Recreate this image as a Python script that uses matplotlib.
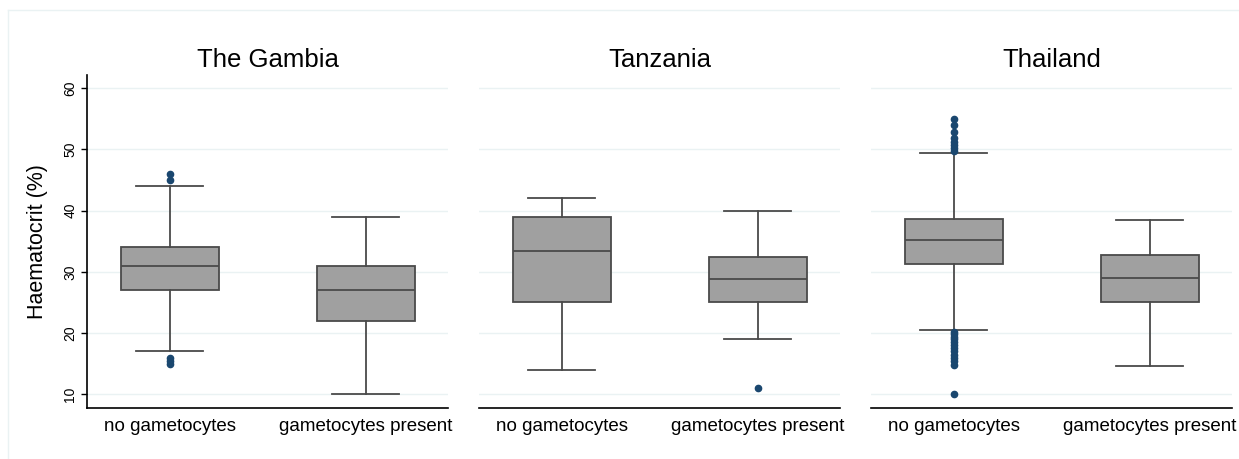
import matplotlib
matplotlib.use("Agg")
import matplotlib.pyplot as plt
from matplotlib.lines import Line2D

plt.rcParams["font.family"] = ["Liberation Sans", "DejaVu Sans"]

countries = ["The Gambia", "Tanzania", "Thailand"]
groups = ["no gametocytes", "gametocytes present"]

# per country: [no gametocytes, gametocytes present]
whislo = [[17, 10], [13.9, 19], [20.5, 14.7]]
q1 = [[27, 22], [25.1, 25.1], [31.3, 25.1]]
med = [[31, 27], [33.4, 28.9], [35.2, 29.0]]
q3 = [[34, 31], [39, 32.4], [38.6, 32.8]]
whishi = [[44, 39], [42, 40], [49.4, 38.4]]
fliers = [
    [[45, 46, 15, 15.5, 16], []],
    [[], [11]],
    [[49.8, 50.3, 50.8, 51.3, 51.8, 52.9, 54, 55,
      20.2, 19.8, 19.4, 19, 18.5, 18, 17.5, 17, 16.5, 16, 15.5, 14.8, 10], []],
]

yticks = [10, 20, 30, 40, 50, 60]

fig = plt.figure(figsize=(12.39, 4.59), dpi=100)
W, H = 1239, 459
lefts = [87, 479, 871]
grid_c = "#eaf2f3"
edge_c = "#4a4a4a"

for i, country in enumerate(countries):
    ax = fig.add_axes([lefts[i] / W, 1 - 408.3 / H, 361 / W, (408.3 - 75) / H])
    stats = []
    for j, g in enumerate(groups):
        stats.append(dict(label=g, whislo=whislo[i][j], q1=q1[i][j], med=med[i][j],
                          q3=q3[i][j], whishi=whishi[i][j], fliers=fliers[i][j]))
    ax.bxp(stats, positions=[1, 2], widths=0.5, patch_artist=True,
           boxprops=dict(facecolor="#a0a0a0", edgecolor=edge_c, linewidth=1.3),
           medianprops=dict(color=edge_c, linewidth=1.3),
           whiskerprops=dict(color=edge_c, linewidth=1.3),
           capprops=dict(color=edge_c, linewidth=1.3),
           capwidths=0.34,
           flierprops=dict(marker="o", markerfacecolor="#1a476f",
                           markeredgecolor="#1a476f", markersize=4.5),
           zorder=3)
    ax.set_xlim(0.578, 2.42)
    ax.set_ylim(7.71, 62.17)
    ax.set_yticks(yticks)
    for y in yticks:
        ax.axhline(y, color=grid_c, linewidth=1.0, zorder=1)
    ax.set_title(country, fontsize=18.5, pad=6)
    ax.tick_params(axis="x", length=0, pad=7, labelsize=13.5)
    for s in ["top", "right"]:
        ax.spines[s].set_visible(False)
    ax.spines["bottom"].set_linewidth(1.2)
    if i == 0:
        ax.spines["left"].set_linewidth(1.2)
        ax.tick_params(axis="y", length=4, width=1, pad=3, labelsize=10,
                       labelrotation=90)
        for lab in ax.get_yticklabels():
            lab.set_va("center")
        ax.set_ylabel("Haematocrit (%)", fontsize=15.5, labelpad=11)
    else:
        ax.spines["left"].set_visible(False)
        ax.tick_params(axis="y", left=False, labelleft=False)

# faint outer frame
fig.add_artist(Line2D([8 / W, 1], [1 - 10 / H, 1 - 10 / H], color=grid_c, linewidth=1))
fig.add_artist(Line2D([8 / W, 8 / W], [0, 1 - 10 / H], color=grid_c, linewidth=1))

fig.savefig("out.png", dpi=100, facecolor="white")
